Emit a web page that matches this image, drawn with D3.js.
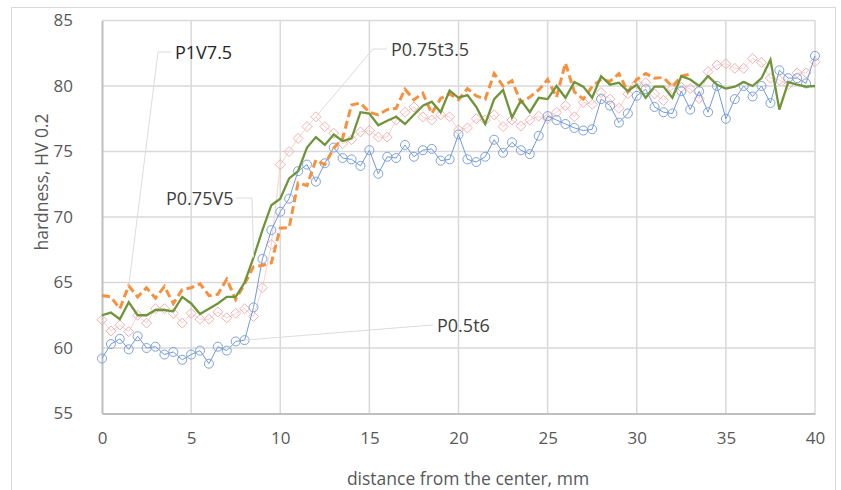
<!DOCTYPE html>
<html>
<head>
<meta charset="utf-8">
<script src="https://cdn.jsdelivr.net/npm/d3@7"></script>
<style>
  html, body { margin: 0; padding: 0; background: #fff; }
  svg { display: block; }
  text { font-family: "Open Sans", "Noto Sans", sans-serif; }
</style>
</head>
<body>
<svg id="chart" width="841" height="490"></svg>
<script>
// distance from the center, mm (measurement positions)
const distance = [0,0.5,1,1.5,2,2.5,3,3.5,4,4.5,5,5.5,6,6.5,7,7.5,8,8.5,9,9.5,10,10.5,11,11.5,12,12.5,13,13.5,14,14.5,15,15.5,16,16.5,17,17.5,18,18.5,19,19.5,20,20.5,21,21.5,22,22.5,23,23.5,24,24.5,25,25.5,26,26.5,27,27.5,28,28.5,29,29.5,30,30.5,31,31.5,32,32.5,33,33.5,34,34.5,35,35.5,36,36.5,37,37.5,38,38.5,39,39.5,40];

// hardness HV 0.2 per sample
const hvP05t6 = [59.2,60.3,60.7,59.9,60.9,60.0,60.1,59.5,59.7,59.1,59.5,59.8,58.8,60.1,59.8,60.5,60.6,63.1,66.8,69.0,70.4,71.4,73.5,74.0,72.7,74.1,75.3,74.5,74.4,73.9,75.1,73.3,74.6,74.5,75.5,74.6,75.1,75.2,74.3,74.4,76.3,74.4,74.2,74.6,75.9,74.9,75.7,75.1,74.8,76.2,77.7,77.4,77.1,76.8,76.6,76.7,79.0,78.5,77.2,77.9,79.25,79.75,78.4,78.0,77.9,79.6,78.2,79.6,78.0,80.0,77.5,79.0,80.0,79.2,80.0,78.7,81.2,80.6,80.6,80.2,82.3];

const hvP075t35 = [62.15,61.3,61.75,61.25,62.5,61.9,63.0,63.0,62.65,61.9,62.65,62.2,62.2,62.75,62.3,62.65,63.0,62.4,64.6,67.9,74.0,75.0,76.0,76.9,77.65,76.9,76.4,75.6,75.9,76.5,76.6,76.1,76.1,77.4,78.0,78.4,77.65,77.4,77.8,77.65,76.65,76.8,77.5,77.4,77.8,76.9,77.4,76.95,77.4,77.7,77.5,78.0,78.5,77.65,78.75,78.6,79.5,79.0,78.3,79.4,80.2,80.25,79.4,78.9,79.8,79.9,79.8,79.05,81.1,81.6,81.7,81.35,81.35,82.1,81.8,80.6,80.45,80.1,81.0,81.0,81.85];

// measured from 0 to 33 mm only
const hvP1V75 = [64.0,63.9,63.0,64.75,63.9,64.6,63.8,64.7,63.4,64.45,64.6,64.9,64.0,64.1,65.25,63.7,64.9,66.2,66.3,66.5,69.15,69.2,72.6,72.4,74.35,74.0,75.25,76.0,78.55,78.7,78.0,77.8,78.2,78.3,79.75,78.95,79.45,77.9,79.05,79.4,78.95,79.8,79.25,79.0,80.95,80.0,80.4,78.75,79.15,79.7,80.5,79.15,81.75,79.55,79.0,79.95,80.5,80.35,80.95,79.55,80.5,80.95,80.6,80.65,79.95,80.75,80.9];

const hvP075V5 = [62.5,62.7,62.2,63.5,62.5,62.5,62.9,62.9,62.8,63.9,63.4,62.6,63.0,63.4,63.9,63.9,65.0,66.9,69.0,70.9,71.4,72.95,73.5,75.3,76.1,75.5,76.3,75.8,76.0,78.0,77.9,77.0,77.35,77.65,77.1,77.8,78.5,78.8,78.0,79.65,79.1,79.3,78.4,77.1,79.0,79.7,77.6,78.9,78.0,79.1,79.0,80.0,79.1,80.3,79.95,79.1,80.75,80.1,80.25,79.6,80.1,79.1,79.95,79.95,79.1,80.75,80.5,80.0,80.75,80.1,79.8,79.95,80.3,80.0,80.6,82.0,78.2,80.3,80.1,79.95,80.0];

const xTicks = [0,5,10,15,20,25,30,35,40];
const yTicks = [55,60,65,70,75,80,85];

const xTitle = "distance from the center, mm";
const yTitle = "hardness, HV 0.2";

const seriesNames = ["P0.5t6", "P0.75t3.5", "P1V7.5", "P0.75V5"];

const svg = d3.select("#chart");
const W = 841, H = 490;

svg.append("rect").attr("width", W).attr("height", H).attr("fill", "#fff");
// chart frame
svg.append("rect")
  .attr("x", 11.5).attr("y", 7.5).attr("width", 824).attr("height", 490)
  .attr("fill", "none").attr("stroke", "#d9d9d9").attr("stroke-width", 1);

const x = d3.scaleLinear().domain([0, 40]).range([102, 815]);
const y = d3.scaleLinear().domain([55, 85]).range([413.5, 20.5]);

// gridlines
const grid = svg.append("g");
grid.selectAll("line.v").data(xTicks.slice(1)).join("line")
  .attr("x1", d => x(d)).attr("x2", d => x(d))
  .attr("y1", y(85)).attr("y2", y(55))
  .attr("stroke", "#d9d9d9").attr("stroke-width", 1.5);
grid.selectAll("line.h").data(yTicks.slice(1)).join("line")
  .attr("x1", x(0)).attr("x2", x(40))
  .attr("y1", d => y(d)).attr("y2", d => y(d))
  .attr("stroke", "#d9d9d9").attr("stroke-width", 1.5);

// axes
const xAxis = svg.append("g").attr("transform", `translate(0,${y(55)})`)
  .call(d3.axisBottom(x).tickValues(xTicks).tickSize(0).tickPadding(18));
const yAxis = svg.append("g").attr("transform", `translate(${x(0)},0)`)
  .call(d3.axisLeft(y).tickValues(yTicks).tickSize(0).tickPadding(29));
[xAxis, yAxis].forEach(a => {
  a.select(".domain").attr("stroke", "#bfbfbf").attr("stroke-width", 2);
  a.selectAll("text").attr("font-size", 17).attr("fill", "#595959")
    .attr("font-family", "'Open Sans', sans-serif");
});

// axis titles
svg.append("text").attr("x", 468).attr("y", 478)
  .attr("text-anchor", "middle").attr("dominant-baseline", "central")
  .attr("font-size", 17.5).attr("fill", "#595959").text(xTitle);
svg.append("text")
  .attr("transform", "translate(41,182) rotate(-90)")
  .attr("text-anchor", "middle").attr("dominant-baseline", "central")
  .attr("font-size", 17.5).attr("fill", "#595959").text(yTitle);

const pts = vals => vals.map((v, i) => [distance[i], v]);
const line = d3.line().x(d => x(d[0])).y(d => y(d[1]));

// P0.75t3.5 : faint line with open diamonds
const pinkData = pts(hvP075t35);
svg.append("path").attr("d", line(pinkData))
  .attr("fill", "none").attr("stroke", "#f6d3d3").attr("stroke-width", 1);
svg.append("g").selectAll("path").data(pinkData).join("path")
  .attr("transform", d => `translate(${x(d[0])},${y(d[1])})`)
  .attr("d", "M0,-5L5,0L0,5L-5,0Z")
  .attr("fill", "none").attr("stroke", "#f2b1b1").attr("stroke-width", 1);

// P0.5t6 : thin blue line with open circles
const blueData = pts(hvP05t6);
svg.append("path").attr("d", line(blueData))
  .attr("fill", "none").attr("stroke", "#7199da").attr("stroke-width", 1);
svg.append("g").selectAll("circle").data(blueData).join("circle")
  .attr("cx", d => x(d[0])).attr("cy", d => y(d[1])).attr("r", 4.5)
  .attr("fill", "none").attr("stroke", "#7ea2dc").attr("stroke-width", 1);

// P1V7.5 : thick orange dashes
const orangeData = pts(hvP1V75);
svg.append("path").attr("d", line(orangeData))
  .attr("fill", "none").attr("stroke", "#f6913f").attr("stroke-width", 3)
  .attr("stroke-dasharray", "8,4");

// P0.75V5 : solid green
const greenData = pts(hvP075V5);
svg.append("path").attr("d", line(greenData))
  .attr("fill", "none").attr("stroke", "#6f943a").attr("stroke-width", 2.3)
  .attr("stroke-linejoin", "miter");

// data labels with leader lines
const labels = [
  { text: seriesNames[2], tx: 175, ty: 52, hx: 158, data: orangeData, idx: 3, color: "#262626" },
  { text: seriesNames[1], tx: 391, ty: 49, hx: 373, data: pinkData, idx: 24, color: "#404040" },
  { text: seriesNames[3], tx: 166, ty: 198, hx: 252, data: greenData, idx: 17, color: "#404040", right: true },
  { text: seriesNames[0], tx: 437, ty: 325, hx: 432, data: blueData, idx: 16, color: "#404040" }
];
labels.forEach(l => {
  const p = l.data[l.idx];
  const startX = l.right ? 236 : l.tx - 4;
  svg.append("path")
    .attr("d", `M${startX},${l.ty}L${l.hx},${l.ty}L${x(p[0])},${y(p[1])}`)
    .attr("fill", "none").attr("stroke", "#dcdcdc").attr("stroke-width", 1);
  svg.append("text").attr("x", l.tx).attr("y", l.ty)
    .attr("dominant-baseline", "central")
    .attr("font-size", 18).attr("fill", l.color).text(l.text);
});
</script>
</body>
</html>
